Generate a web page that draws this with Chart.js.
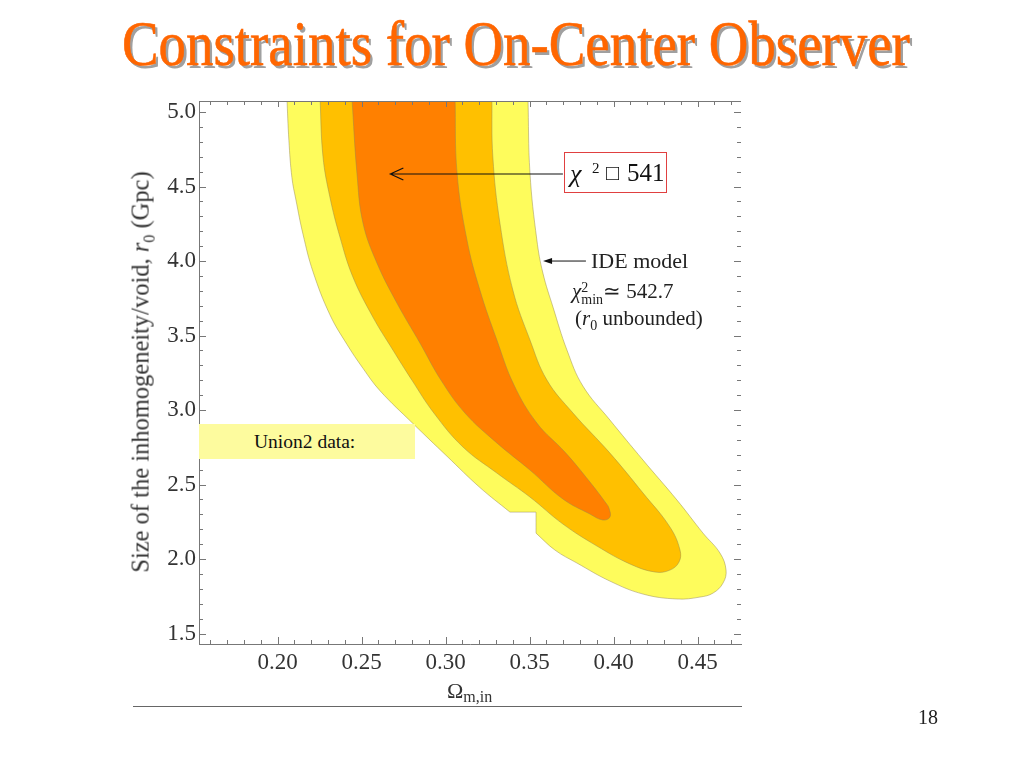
<!DOCTYPE html>
<html>
<head>
<meta charset="utf-8">
<script src="https://cdn.jsdelivr.net/npm/chart.js@4.4.1/dist/chart.umd.min.js"></script>
<style>
  html, body { margin: 0; padding: 0; background: #fff; }
  #slide { position: relative; width: 1024px; height: 768px; overflow: hidden;
           font-family: "Liberation Serif", "Times New Roman", serif; }
  #chart { position: absolute; left: 0; top: 0; }
  .txt { position: absolute; white-space: nowrap; color: #222; }
  #title { left: 0; top: 12px; font-size: 64px; line-height: 64px; color: #ff6600;
           -webkit-text-stroke: 0.6px #ff6600;
           text-shadow: 3px 3px 0 #a0a0a0; transform-origin: 0 0; }
  #ytitle { left: 145px; top: 372px; font-size: 24.5px; line-height: 24px; color: #333;
            transform: translate(-50%, -50%) rotate(-90deg); }
  #xtitle { left: 447px; top: 680px; font-size: 22px; line-height: 22px; color: #333; }
  #xtitle sub { font-size: 16px; vertical-align: -4px; }
  #chibox { left: 564px; top: 152px; width: 103px; height: 41px; box-sizing: border-box;
            border: 1px solid #e04040; color: #111; }
  #chibox span { position: absolute; line-height: 26px; }
  #ide1 { left: 591px; top: 250px; font-size: 22px; line-height: 22px; }
  #ide2 { left: 572px; top: 281px; font-size: 21px; line-height: 21px; }
  #ide3 { left: 575px; top: 308px; font-size: 21px; line-height: 21px; }
  .stack { display: inline-block; font-size: 14px; line-height: 12px; vertical-align: -6px; }
  .stack span { display: block; }
  #union { left: 199px; top: 424px; width: 216px; height: 35px; background: #fdfb9e;
           font-size: 19.5px; line-height: 35px; text-indent: 55px; color: #111; }
  #page { left: 918px; top: 707px; font-size: 20px; line-height: 20px; color: #222; }
  #rule { position: absolute; left: 133px; top: 706px; width: 609px; height: 1px; background: #666; }
</style>
</head>
<body>
<div id="slide">
  <canvas id="chart" width="1024" height="768"></canvas>
  <div class="txt" id="title">Constraints for On-Center Observer</div>
  <div class="txt" id="ytitle">Size of the inhomogeneity/void, <i>r</i><sub style="font-size:16px">0</sub> (Gpc)</div>
  <div class="txt" id="xtitle">Ω<sub>m,in</sub></div>
  <div class="txt" id="union">Union2 data:</div>
  <div class="txt" id="chibox">
    <span style="left:5px; top:8px; font-size:26px; font-style:italic">χ</span>
    <span style="left:27px; top:2px; font-size:15px">2</span>
    <span style="left:41px; top:7px; font-size:22px">□</span>
    <span style="left:62px; top:7px; font-size:25px">541</span>
  </div>
  <div class="txt" id="ide1">IDE model</div>
  <div class="txt" id="ide2"><i>χ</i><span class="stack"><span>2</span><span>min</span></span>≃ 542.7</div>
  <div class="txt" id="ide3">(<i>r</i><sub style="font-size:14px">0</sub> unbounded)</div>
  <div class="txt" id="page">18</div>
  <div id="rule"></div>
</div>
<script>
// contour boundaries, [Omega_m,in, r0 in Gpc]; repeated points are sharp corners
const outerContour = [
  [0.2055,5.10],[0.2067,4.81],[0.2085,4.56],[0.2109,4.41],[0.2151,4.18],[0.2210,3.93],
  [0.2311,3.64],[0.2413,3.44],[0.2508,3.28],[0.2609,3.13],[0.2805,2.91],[0.3008,2.69],
  [0.3204,2.48],[0.3383,2.315],[0.3383,2.315],[0.3538,2.315],[0.3538,2.315],
  [0.3538,2.174],[0.3538,2.174],[0.3651,2.06],[0.3782,1.973],[0.3978,1.852],
  [0.4175,1.765],[0.4377,1.732],[0.4514,1.745],[0.4592,1.772],[0.4651,1.839],
  [0.4669,1.926],[0.4633,2.04],[0.4532,2.174],[0.4377,2.396],[0.4175,2.664],
  [0.3978,2.933],[0.3817,3.161],[0.3722,3.403],[0.3639,3.691],[0.3579,3.919],
  [0.3543,4.141],[0.3502,4.591],[0.3490,5.10]
];
const middleContour = [
  [0.2252,5.10],[0.2270,4.70],[0.2311,4.43],[0.2371,4.161],[0.2448,3.893],[0.2567,3.624],
  [0.2686,3.403],[0.2799,3.201],[0.2930,2.98],[0.3103,2.752],[0.3305,2.577],[0.3502,2.416],
  [0.3698,2.235],[0.3901,2.087],[0.4097,1.967],[0.4246,1.913],[0.4335,1.926],[0.4389,1.98],
  [0.4395,2.06],[0.4335,2.215],[0.4175,2.443],[0.3978,2.711],[0.3758,2.98],[0.3603,3.201],
  [0.3502,3.47],[0.3400,3.805],[0.3323,4.255],[0.3281,4.698],[0.3275,5.10]
];
const innerContour = [
  [0.2442,5.10],[0.2472,4.591],[0.2508,4.255],[0.2591,3.987],[0.2710,3.718],[0.2847,3.45],
  [0.2972,3.201],[0.3115,2.98],[0.3305,2.779],[0.3502,2.597],[0.3698,2.403],[0.3859,2.302],
  [0.3936,2.262],[0.3978,2.282],[0.3972,2.342],[0.3954,2.376],[0.3859,2.517],[0.3710,2.718],
  [0.3543,2.913],[0.3407,3.168],[0.3305,3.47],[0.3204,3.805],[0.3127,4.141],[0.3068,4.591],
  [0.3056,5.10]
];
const xMajorTicks = [0.20, 0.25, 0.30, 0.35, 0.40, 0.45];
const yMajorTicks = [1.5, 2.0, 2.5, 3.0, 3.5, 4.0, 4.5, 5.0];

const toPts = arr => arr.map(p => ({x: p[0], y: p[1]}));
const isMajor = (v, list) => list.some(m => Math.abs(m - v) < 1e-6);
const edge = 'rgba(150,135,80,0.6)';

// inward ticks on all four sides + top frame line
const frameTicks = {
  id: 'frameTicks',
  afterDatasetsDraw(chart) {
    const {ctx, chartArea: a, scales: {x, y}} = chart;
    ctx.save();
    ctx.strokeStyle = '#777';
    ctx.lineWidth = 1;
    ctx.beginPath();
    ctx.moveTo(a.left, a.top + 0.5);
    ctx.lineTo(a.right, a.top + 0.5);
    x.ticks.forEach(t => {
      const px = Math.round(x.getPixelForValue(t.value)) + 0.5;
      const big = isMajor(t.value, xMajorTicks);
      ctx.moveTo(px, a.bottom); ctx.lineTo(px, a.bottom - (big ? 7 : 4));
      ctx.moveTo(px, a.top); ctx.lineTo(px, a.top + (big ? 6 : 4));
    });
    y.ticks.forEach(t => {
      const py = Math.round(y.getPixelForValue(t.value)) + 0.5;
      const big = isMajor(t.value, yMajorTicks);
      ctx.moveTo(a.left, py); ctx.lineTo(a.left + (big ? 7 : 4), py);
      ctx.moveTo(a.right, py); ctx.lineTo(a.right - (big ? 7 : 4), py);
    });
    ctx.stroke();
    ctx.restore();
  }
};

// the two arrows
const arrows = {
  id: 'arrows',
  afterDraw(chart) {
    const {ctx, scales: {x, y}} = chart;
    ctx.save();
    ctx.strokeStyle = '#111';
    ctx.fillStyle = '#111';
    ctx.lineWidth = 1.2;
    // to the best fit point
    let y1 = y.getPixelForValue(4.584);
    let x0 = x.getPixelForValue(0.3698), x1 = x.getPixelForValue(0.2671);
    ctx.beginPath();
    ctx.moveTo(x0, y1); ctx.lineTo(x1, y1);
    ctx.moveTo(x1 + 13, y1 - 6); ctx.lineTo(x1, y1); ctx.lineTo(x1 + 13, y1 + 6);
    ctx.stroke();
    // IDE model
    y1 = y.getPixelForValue(4.0);
    x0 = x.getPixelForValue(0.3835); x1 = x.getPixelForValue(0.3580);
    ctx.lineWidth = 1;
    ctx.beginPath();
    ctx.moveTo(x0, y1); ctx.lineTo(x1 + 6, y1);
    ctx.stroke();
    ctx.beginPath();
    ctx.moveTo(x1, y1); ctx.lineTo(x1 + 9, y1 - 3); ctx.lineTo(x1 + 9, y1 + 3);
    ctx.closePath();
    ctx.fill();
    ctx.restore();
  }
};

const tickFont = {family: 'Liberation Serif', size: 23};

new Chart(document.getElementById('chart'), {
  type: 'scatter',
  data: {
    datasets: [
      {data: toPts(innerContour), backgroundColor: '#ff8000'},
      {data: toPts(middleContour), backgroundColor: '#ffc000'},
      {data: toPts(outerContour), backgroundColor: '#fefc5c'}
    ].map(d => Object.assign(d, {
      showLine: true, fill: 'shape', pointRadius: 0, borderColor: edge,
      borderWidth: 0.8, tension: 0.4
    }))
  },
  options: {
    responsive: false,
    animation: false,
    events: [],
    layout: {padding: {left: 0, top: 101, right: 283, bottom: 0}},
    plugins: {legend: {display: false}, tooltip: {enabled: false}},
    scales: {
      x: {
        type: 'linear', min: 0.1532, max: 0.4758,
        afterFit(s) { s.height = 124; },
        grid: {display: false, drawTicks: false},
        border: {display: true, color: '#777'},
        ticks: {
          stepSize: 0.01, includeBounds: false, autoSkip: false, maxRotation: 0,
          padding: 5, font: tickFont, color: '#333',
          callback: v => isMajor(v, xMajorTicks) ? v.toFixed(2) : ''
        }
      },
      y: {
        type: 'linear', min: 1.43, max: 5.074,
        afterFit(s) { s.width = 199; },
        grid: {display: false, drawTicks: false},
        border: {display: true, color: '#777'},
        ticks: {
          stepSize: 0.1, includeBounds: false, autoSkip: false,
          padding: 3, font: tickFont, color: '#333',
          callback: v => isMajor(v, yMajorTicks) ? v.toFixed(1) : ''
        }
      }
    }
  },
  plugins: [frameTicks, arrows]
});

// squeeze the condensed title into its width
const title = document.getElementById('title');
const w = title.offsetWidth;
const s = 788 / w;
title.style.transform = 'scaleX(' + s + ')';
title.style.left = (516 - w * s / 2) + 'px';
</script>
</body>
</html>
